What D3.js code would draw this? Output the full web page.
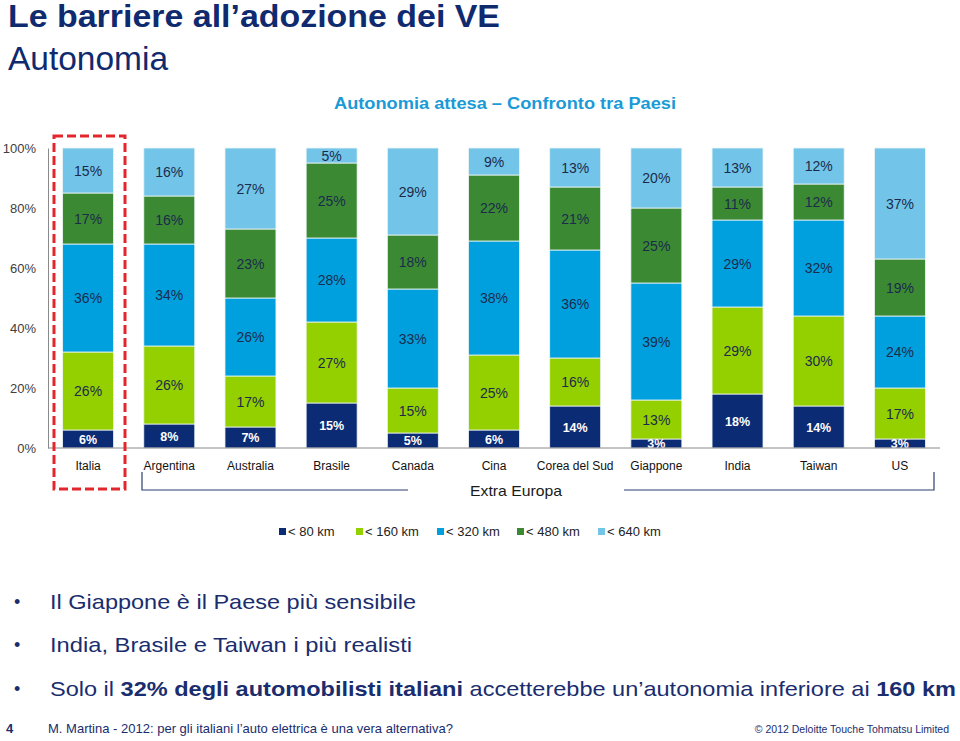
<!DOCTYPE html>
<html>
<head>
<meta charset="utf-8">
<script src="https://cdn.jsdelivr.net/npm/d3@7"></script>
<style>
html,body{margin:0;padding:0;background:#fff;}
svg{display:block;font-family:"Liberation Sans",Arial,sans-serif;}
</style>
</head>
<body>
<svg id="c" width="960" height="741"></svg>
<script>
// ---- data ----
const categories = ["Italia","Argentina","Australia","Brasile","Canada","Cina","Corea del Sud","Giappone","India","Taiwan","US"];
const seriesNames = ["< 80 km","< 160 km","< 320 km","< 480 km","< 640 km"];
const s80  = [6, 8, 7, 15, 5, 6, 14, 3, 18, 14, 3];
const s160 = [26,26,17,27,15,25,16,13,29,30,17];
const s320 = [36,34,26,28,33,38,36,39,29,32,24];
const s480 = [17,16,23,25,18,22,21,25,11,12,19];
const s640 = [15,16,27, 5,29, 9,13,20,13,12,37];
const yTicks = [0,20,40,60,80,100];
const seriesColors = ["#0b2b74","#94d000","#00a0df","#3b8a33","#72c5e8"];

const seriesValues = [s80,s160,s320,s480,s640];
const table = categories.map((c,i)=>{
  const o={cat:c};
  seriesNames.forEach((s,j)=>o[s]=seriesValues[j][i]);
  return o;
});

const svg = d3.select("#c");

// ---- titles ----
svg.append("text").attr("x",8).attr("y",27)
  .attr("font-size",31).attr("font-weight","bold").attr("fill","#0f2a6e")
  .attr("textLength",492).attr("lengthAdjust","spacingAndGlyphs")
  .text("Le barriere all’adozione dei VE");
svg.append("text").attr("x",8).attr("y",70)
  .attr("font-size",33).attr("fill","#0f2a6e")
  .attr("textLength",160).attr("lengthAdjust","spacingAndGlyphs")
  .text("Autonomia");
svg.append("text").attr("x",334).attr("y",109)
  .attr("font-size",16).attr("font-weight","bold").attr("fill","#1a9ad6")
  .attr("textLength",342).attr("lengthAdjust","spacingAndGlyphs")
  .text("Autonomia attesa – Confronto tra Paesi");

// ---- chart ----
const x = d3.scaleBand().domain(categories).range([48,940]).paddingInner(0.372).paddingOuter(0.18);
const y = d3.scaleLinear().domain([0,100]).range([448,148]);

const stack = d3.stack().keys(seriesNames)(table);

const g = svg.append("g");
stack.forEach((layer,j)=>{
  const lg = g.append("g");
  lg.selectAll("rect").data(layer).join("rect")
    .attr("x",d=>x(d.data.cat))
    .attr("width",x.bandwidth())
    .attr("y",d=>y(d[1]))
    .attr("height",d=>y(d[0])-y(d[1]))
    .attr("fill",seriesColors[j])
    .attr("stroke","#eef6f6").attr("stroke-width",0.8);
});
stack.forEach((layer,j)=>{
  g.append("g").selectAll("text").data(layer).join("text")
    .attr("x",d=>x(d.data.cat)+x.bandwidth()/2)
    .attr("y",d=>(y(d[0])+y(d[1]))/2)
    .attr("dy","0.36em")
    .attr("text-anchor","middle")
    .attr("font-size",j===0?12.5:14)
    .attr("font-weight",j===0?"bold":"normal")
    .attr("fill",j===0?"#ffffff":"#1c2b4c")
    .text(d=>(d[1]-d[0])+"%");
});

// axes
const yAxis = svg.append("g").attr("transform","translate(48,0)")
  .call(d3.axisLeft(y).tickValues(yTicks).tickFormat(d=>d+"%").tickSize(0).tickPadding(12));
yAxis.select(".domain").attr("stroke","#8a8a8a");
yAxis.selectAll("text").attr("font-size",13).attr("fill","#404040").attr("font-family","Liberation Sans, Arial, sans-serif");

const xAxis = svg.append("g").attr("transform","translate(0,448)")
  .call(d3.axisBottom(x).tickSize(0).tickPadding(13));
xAxis.select(".domain").attr("d","M48,0H940").attr("stroke","#8a8a8a");
xAxis.selectAll("text").attr("font-size",12).attr("fill","#111").attr("font-family","Liberation Sans, Arial, sans-serif");

// red dashed highlight around Italia
svg.append("rect").attr("x",54).attr("y",136).attr("width",71).attr("height",353)
  .attr("fill","none").attr("stroke","#e3262b").attr("stroke-width",3)
  .attr("stroke-dasharray","9,4");

// Extra Europa bracket
const br = svg.append("g").attr("stroke","#2b3f6e").attr("stroke-width",1.2).attr("fill","none");
br.append("path").attr("d","M142,472V490H408");
br.append("path").attr("d","M624,490H934V472");
svg.append("text").attr("x",516).attr("y",496).attr("text-anchor","middle")
  .attr("font-size",15).attr("fill","#1a1a1a")
  .attr("textLength",92).attr("lengthAdjust","spacingAndGlyphs")
  .text("Extra Europa");

// legend
const legendX = [279,356,437,517,598];
const leg = svg.append("g");
seriesNames.forEach((s,j)=>{
  leg.append("rect").attr("x",legendX[j]).attr("y",528).attr("width",7).attr("height",7).attr("fill",seriesColors[j]);
  leg.append("text").attr("x",legendX[j]+9).attr("y",536).attr("font-size",13).attr("fill","#222").text(s);
});

// bullets
const bullets = svg.append("g").attr("fill","#1a2d6e").attr("font-size",21);
const by = [609,652,696];
by.forEach(b=>bullets.append("text").attr("x",14).attr("y",b-1).attr("font-size",18).text("•"));
bullets.append("text").attr("x",50).attr("y",by[0]).attr("textLength",366).attr("lengthAdjust","spacingAndGlyphs")
  .text("Il Giappone è il Paese più sensibile");
bullets.append("text").attr("x",50).attr("y",by[1]).attr("textLength",362).attr("lengthAdjust","spacingAndGlyphs")
  .text("India, Brasile e Taiwan i più realisti");
const t3 = bullets.append("text").attr("x",50).attr("y",by[2]).attr("textLength",906).attr("lengthAdjust","spacingAndGlyphs");
t3.append("tspan").text("Solo il ");
t3.append("tspan").attr("font-weight","bold").text("32% degli automobilisti italiani");
t3.append("tspan").text(" accetterebbe un’autonomia inferiore ai ");
t3.append("tspan").attr("font-weight","bold").text("160 km");

// footer
svg.append("text").attr("x",6).attr("y",733).attr("font-size",13).attr("font-weight","bold").attr("fill","#1a2d6e").text("4");
svg.append("text").attr("x",48).attr("y",733).attr("font-size",13).attr("fill","#1a2d6e")
  .attr("textLength",405).attr("lengthAdjust","spacingAndGlyphs")
  .text("M. Martina - 2012: per gli italiani l’auto elettrica è una vera alternativa?");
svg.append("text").attr("x",949).attr("y",733).attr("text-anchor","end").attr("font-size",10.5).attr("fill","#1a2d6e")
  .text("© 2012 Deloitte Touche Tohmatsu Limited");
</script>
</body>
</html>
